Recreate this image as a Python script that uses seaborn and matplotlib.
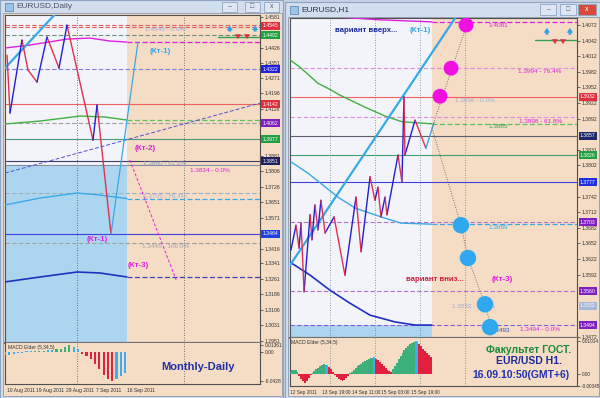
import numpy as np
import pandas as pd
import matplotlib
matplotlib.use("Agg")
import matplotlib.pyplot as plt
import matplotlib.transforms as mtransforms
from matplotlib.patches import Rectangle
import seaborn as sns

W, H = 600, 398
PEACH = "#f5dcc5"
WHITEISH = "#f3f4fa"
SKY = "#acd6ef"
ZZ_UP = "#2020d0"
ZZ_DN = "#e03050"
LBLUE = "#38a8e8"
MAGENTA = "#e020e0"

# ---------------- Daily chart data ----------------
d_xlim = (0, 59.44)
d_ylim = (1.2941, 1.4590)
d_date_idx = [0.47, 7.2, 14.2, 21.2, 28.4]
d_dates = ["10 Aug 2011", "19 Aug 2011", "29 Aug 2011", "7 Sep 2011", "16 Sep 2011"]
d_yticks = [1.4581, 1.4426, 1.4351, 1.4271, 1.4196, 1.4116, 1.3881, 1.3806, 1.3726,
            1.3651, 1.3571, 1.3416, 1.3341, 1.3261, 1.3186, 1.3106, 1.3031, 1.2951]
d_now = 28.4
d_split = 1.3835
d_vlines = [16.8, 41.7]

d_zz_x = [0.47, 1.17, 3.96, 5.36, 7.46, 9.79, 12.59, 14.45, 20.51, 21.45, 24.71]
d_zz_p = [1.4388, 1.4097, 1.4464, 1.4313, 1.4253, 1.4479, 1.4323, 1.4539, 1.3961, 1.4137, 1.3489]
d_proj_x = [24.71, 31.0]
d_proj_p = [1.3489, 1.4454]

d_ma_x = [0, 5.8, 14.5, 19.8, 24.5, 28.4]
d_ma_mag = [1.4424, 1.4439, 1.4469, 1.4474, 1.4459, 1.4454]
d_ma2_x = [0, 8.2, 17.5, 23.3, 28.4]
d_ma_green = [1.4042, 1.4057, 1.4082, 1.4077, 1.4062]
d_ma3_x = [0, 8.2, 16.8, 22.1, 28.4]
d_ma_sky = [1.3635, 1.3670, 1.3695, 1.3685, 1.3667]
d_ma_navy = [1.3248, 1.3273, 1.3298, 1.3293, 1.3273]

d_trend_x = [0, 13.0]
d_trend_p = [1.4323, 1.4625]
d_diag_mag_x = [29.1, 39.9]
d_diag_mag_p = [1.3861, 1.3258]
d_diag_blue_x = [0, 59.44]
d_diag_blue_p = [1.3795, 1.4147]

# (price, colour, style) full-width levels
d_levels = [(1.4539, "#e06060", "--"), (1.4531, "#e06060", "--"), (1.4489, "#6f8f7f", "--"),
            (1.4318, "#8080e0", "--"), (1.4142, "#f06060", "-"), (1.4047, "#a0a0a0", "--"),
            (1.3966, "#4a9a7a", "-"), (1.3855, "#404060", "-"), (1.3835, "#8890a0", "-"),
            (1.3697, "#a0b0c0", "--"), (1.3489, "#4040e0", "-"), (1.3444, "#a0a0a0", "--")]
d_tags = [("1.4545", 1.4535, "#e03040"), ("1.4492", 1.4489, "#20a040"), ("1.4322", 1.4318, "#2020e0"),
          ("1.4142", 1.4142, "#e03040"), ("1.4062", 1.4047, "#8020c0"), ("1.3977", 1.3966, "#20a040"),
          ("1.3851", 1.3855, "#202060"), ("1.3464", 1.3489, "#2040e0")]
d_up_x = [52.4, 58.3]
d_dn_x = [54.3, 56.4]

d_macd = [-0.004, -0.004, -0.003, -0.002, -0.001, 0.001, 0.001, 0.002, 0.002, 0.002,
          0.003, 0.003, 0.004, 0.005, 0.008, 0.010, 0.008, 0.004, -0.003, -0.006,
          -0.011, -0.018, -0.026, -0.034, -0.041, -0.043, -0.040, -0.036, -0.031]
d_phase = list("nnnnnnnuuunnuuuunnddddddddnnn")

# ---------------- H1 chart data ----------------
h_xlim = (0, 153.07)
h_ylim = (1.34701, 1.40855)
h_date_idx = [0, 17.1, 33.1, 48.5, 64.5]
h_dates = ["12 Sep 2011", "13 Sep 19:00", "14 Sep 11:00", "15 Sep 03:00", "15 Sep 19:00"]
h_yticks = [1.4072, 1.4042, 1.4012, 1.3982, 1.3952, 1.3922, 1.3892, 1.3831, 1.3802,
            1.3742, 1.3712, 1.3682, 1.3652, 1.3622, 1.3592, 1.3472]
h_now = 75.7
h_split = 1.3495
h_vlines = [21.3, 45.3, 69.3, 93.3]

h_zz_x = [0.5, 3.2, 4.8, 5.9, 7.5, 10.7, 11.7, 13.3, 14.9, 16.5, 18.7, 23.5, 29.3, 35.2,
          37.9, 42.7, 45.3, 46.9, 48.5, 50.7, 51.7, 57.6, 59.7, 60.8, 61.3, 66.7, 72.5]
h_zz_p = [1.3639, 1.3687, 1.3643, 1.3691, 1.3559, 1.3707, 1.3659, 1.3726, 1.3678, 1.3735,
          1.3672, 1.3703, 1.3591, 1.3741, 1.3636, 1.3780, 1.3735, 1.3760, 1.3703, 1.3741,
          1.3707, 1.3822, 1.3770, 1.3934, 1.3822, 1.3889, 1.3835]
h_tail_x = [72.5, 76.8]
h_tail_p = [1.3835, 1.3884]

h_mag_x = [26.7, 48.0, 75.7]
h_mag_p = [1.4087, 1.4082, 1.4078]
h_green_x = [0, 5.3, 14.9, 21.9, 26.7, 40.0, 50.7, 59.7, 75.7]
h_green_p = [1.4005, 1.3991, 1.3960, 1.3947, 1.3937, 1.3914, 1.3897, 1.3886, 1.3882]
h_sky_x = [0.5, 9.6, 25.6, 34.7, 48.5, 59.2, 75.7]
h_sky_p = [1.3809, 1.3787, 1.3741, 1.3720, 1.3703, 1.3691, 1.3689]
h_navy_x = [0, 10.7, 21.3, 32.0, 42.7, 56.0, 66.7, 75.7]
h_navy_p = [1.3616, 1.3591, 1.3562, 1.3537, 1.3514, 1.3501, 1.3495, 1.3495]

h_trend_x = [0, 88.0]
h_trend_p = [1.3610, 1.4085]
h_up_path_x = [75.7, 96.0]
h_up_path_p = [1.3874, 1.4091]
h_dn_path_x = [75.7, 91.2, 94.9, 104.0, 107.7]
h_dn_path_p = [1.3874, 1.3687, 1.3624, 1.3535, 1.3485]
h_pink_x = [80.0, 85.9, 93.9]
h_pink_p = [1.3935, 1.3989, 1.4072]
h_blue_x = [91.2, 94.9, 104.0, 106.7]
h_blue_p = [1.3687, 1.3624, 1.3535, 1.3491]

h_levels = [(1.3989, "#e090e0", "--"), (1.3934, "#f06060", "-"), (1.3895, "#e090e0", "--"),
            (1.3859, "#606070", "-"), (1.3822, "#40a070", "-"), (1.3770, "#4040e0", "-"),
            (1.3693, "#b070d0", "--"), (1.3560, "#b070d0", "--"), (1.3495, "#8060e0", "--")]
h_tags = [("1.3932", 1.3934, "#e03040"), ("1.3857", 1.3859, "#1c2a6a"), ("1.3826", 1.3822, "#20a040"),
          ("1.3777", 1.3770, "#2030e0"), ("1.3703", 1.3693, "#8020c0"), ("1.3560", 1.3560, "#8020c0"),
          ("1.3532", 1.3532, "#a8b8d8"), ("1.3494", 1.3495, "#8020c0")]
h_up_x = [137.0, 149.3]
h_dn_x = [141.3, 145.6]

h_macd = [0.0008, 0.0012, 0.0014, 0.0012, 0.0008,
          -0.0005, -0.0015, -0.0022, -0.0026, -0.0022, -0.0012, -0.0004,
          0.0004, 0.0010, 0.0016, 0.0020, 0.0024, 0.0027, 0.0030, 0.0029, 0.0027,
          0.0022, 0.0015, 0.0008,
          -0.0004, -0.0010, -0.0015, -0.0019, -0.0021, -0.0018, -0.0012, -0.0005,
          0.0003, 0.0008, 0.0014, 0.0020, 0.0025, 0.0028, 0.0032, 0.0036, 0.0040, 0.0043,
          0.0046, 0.0048, 0.0050, 0.0051,
          0.0047, 0.0042, 0.0036, 0.0030, 0.0024, 0.0019, 0.0014, 0.0010, 0.0008,
          0.0015, 0.0025, 0.0035, 0.0045, 0.0055, 0.0064, 0.0072, 0.0080, 0.0087, 0.0092,
          0.0096, 0.0099,
          0.0100, 0.0098,
          0.0092, 0.0085, 0.0078, 0.0070, 0.0063, 0.0057, 0.0052]
h_phase = list("uuuuu" "ddddddd" "uuuuuuu" "nn" "ddddddddddd" "uuuuuuuuuuuuu" "n"
               "ddddddddd" "uuuuuuuuuuuu" "nn" "ddddddd")

PHASE_COL = {"u": "#3cb07a", "d": "#e0203c", "n": "#3aaef0"}

# ---------------- figure ----------------
sns.set_theme(style="white")
plt.rcParams["font.family"] = ["Liberation Sans", "DejaVu Sans"]

fig = plt.figure(figsize=(6, 3.98), dpi=100)
fig.patch.set_facecolor("#c6d2e2")


def box(x0, y0, x1, y1):
    return [x0 / W, 1 - y1 / H, (x1 - x0) / W, (y1 - y0) / H]


def frame(x0, y0, x1, y1, **kw):
    fig.add_artist(Rectangle((x0 / W, 1 - y1 / H), (x1 - x0) / W, (y1 - y0) / H,
                             transform=fig.transFigure, zorder=-5, **kw))


# windows
frame(0, 0, 283, 398, fc="#d2deee", ec="#8ea4c0", lw=0.8)
frame(3, 13, 282, 396, fc=PEACH, ec="#8a9ab0", lw=0.6)
frame(285, 2, 600, 398, fc="#d2deee", ec="#8ea4c0", lw=0.8)
frame(288, 17, 599, 396, fc=PEACH, ec="#8a9ab0", lw=0.6)
frame(5, 3, 13, 11, fc="#9cc4e8", ec="#5a7aa0", lw=0.5)
frame(290, 6, 298, 14, fc="#9cc4e8", ec="#5a7aa0", lw=0.5)
fig.text(16 / W, 1 - 7 / H, "EURUSD,Daily", fontsize=6, color="#4a5668", va="center")
fig.text(301 / W, 1 - 10 / H, "EURUSD,H1", fontsize=6, color="#2a3448", va="center")
for bx, sym in zip([222, 245, 264], ["–", "□", "x"]):
    frame(bx, 2, bx + 15, 12, fc="#dde6f2", ec="#8ea4c0", lw=0.6)
    fig.text((bx + 7.5) / W, 1 - 7 / H, sym, fontsize=5, ha="center", va="center", color="#506070")
for bx, sym, c in zip([540, 560, 578], ["–", "□", "x"], ["#dde6f2", "#dde6f2", "#d84a3a"]):
    frame(bx, 4, bx + 18 if bx == 578 else bx + 16, 15, fc=c, ec="#8ea4c0", lw=0.6)
    fig.text((bx + 8.5) / W, 1 - 9.5 / H, sym, fontsize=5, ha="center", va="center",
             color="white" if bx == 578 else "#506070")


def style_axes(ax, yticks, ylabels=None, size=3.7):
    ax.set_facecolor(PEACH)
    ax.yaxis.tick_right()
    ax.set_yticks(yticks)
    if ylabels is not None:
        ax.set_yticklabels(ylabels)
    else:
        ax.set_yticklabels([f"{t:.4f}" for t in yticks])
    ax.tick_params(axis="y", labelsize=size, length=2, pad=1.2, colors="#303030", width=0.5)
    for s in ax.spines.values():
        s.set_color("#505050")
        s.set_linewidth(0.8)


def tags(ax, items):
    tr = mtransforms.blended_transform_factory(ax.transAxes, ax.transData)
    for txt, p, c in items:
        ax.text(1.01, p, txt, transform=tr, fontsize=3.7, color="white", va="center", ha="left",
                zorder=10, clip_on=False,
                bbox=dict(boxstyle="square,pad=0.25", fc=c, ec="none"))


def zigzag(ax, xs, ps):
    rows = []
    for i in range(len(xs) - 1):
        d = "up" if ps[i + 1] > ps[i] else "down"
        rows += [(i, d, xs[i], ps[i]), (i, d, xs[i + 1], ps[i + 1])]
    zz = pd.DataFrame(rows, columns=["seg", "dir", "x", "p"])
    sns.lineplot(data=zz, x="x", y="p", hue="dir", units="seg", estimator=None, sort=False,
                 palette={"up": ZZ_UP, "down": ZZ_DN}, legend=False, lw=1.0, ax=ax, zorder=5)


def arrows(ax, xs, p0, p1, color):
    for x in xs:
        ax.annotate("", xy=(x, p1), xytext=(x, p0), zorder=8,
                    arrowprops=dict(arrowstyle="simple,head_width=0.9,head_length=0.7,tail_width=0.4",
                                    mutation_scale=5, color=color, lw=0))


DASH = (0, (4, 2))

# ---------------- Daily main ----------------
axL = fig.add_axes(box(5, 15, 260, 343))
style_axes(axL, d_yticks)
axL.spines["bottom"].set_linewidth(1.6)
axL.spines["bottom"].set_color("#707070")
axL.fill_between([0, d_now], d_split, d_ylim[1], color=WHITEISH, lw=0, zorder=0)
axL.fill_between([0, d_now], d_ylim[0], d_split, color=SKY, lw=0, zorder=0)
for v in d_vlines:
    axL.axvline(v, color="#505050", lw=0.6, ls=(0, (1, 2)), zorder=1)
for p, c, ls in d_levels:
    axL.axhline(p, color=c, lw=0.8, ls=DASH if ls == "--" else "-", zorder=2)
sns.lineplot(x=d_ma_x, y=d_ma_mag, color=MAGENTA, lw=1.0, ax=axL, zorder=3)
sns.lineplot(x=d_ma2_x, y=d_ma_green, color="#40b040", lw=1.0, ax=axL, zorder=3)
sns.lineplot(x=d_ma3_x, y=d_ma_sky, color=LBLUE, lw=1.0, ax=axL, zorder=3)
sns.lineplot(x=d_ma3_x, y=d_ma_navy, color="#2030c0", lw=1.2, ax=axL, zorder=3)
axL.plot([d_now, d_xlim[1]], [d_ma_mag[-1]] * 2, color=MAGENTA, lw=0.9, ls=DASH, zorder=3)
axL.plot([d_now, d_xlim[1]], [d_ma_green[-1]] * 2, color="#60c060", lw=0.9, ls=DASH, zorder=3)
axL.plot([d_now, d_xlim[1]], [d_ma_sky[-1]] * 2, color=LBLUE, lw=0.9, ls=DASH, zorder=3)
axL.plot([d_now, d_xlim[1]], [d_ma_navy[-1]] * 2, color="#4040c0", lw=0.9, ls=DASH, zorder=3)
axL.plot([49.6, d_xlim[1]], [1.4479, 1.4479], color="#30a050", lw=1.0, zorder=3)
sns.lineplot(x=d_trend_x, y=d_trend_p, color=LBLUE, lw=1.6, ax=axL, zorder=4)
axL.plot(d_diag_mag_x, d_diag_mag_p, color=MAGENTA, lw=0.7, ls=(0, (3, 2)), zorder=4)
axL.plot(d_diag_blue_x, d_diag_blue_p, color="#5050d0", lw=0.7, ls=(0, (4, 2)), zorder=4)
zigzag(axL, d_zz_x, d_zz_p)
axL.plot(d_proj_x, d_proj_p, color=LBLUE, lw=0.9, zorder=5)
arrows(axL, d_up_x, 1.4493, 1.4552, "#30a0e8")
arrows(axL, d_dn_x, 1.4491, 1.4455, "#e03040")
kw_lab = dict(fontsize=4.6, va="center", ha="left", zorder=6)
axL.text(32.6, 1.4517, "1.4545 - 0.0%", color="#a0a8d8", **kw_lab)
axL.text(32.2, 1.3841, "1.3880 - 61.8%", color="#8a9ac0", **kw_lab)
axL.text(43.1, 1.3807, "1.3834 - 0.0%", color=MAGENTA, **kw_lab)
axL.text(32.2, 1.3677, "1.3705 - 76.4%", color="#a0b0d0", **kw_lab)
axL.text(31.9, 1.3424, "1.3445 - 100.0%", color="#a0a0b0", **kw_lab)
kw_k = dict(fontsize=5.8, fontweight="bold", ha="center", va="center", zorder=7)
axL.text(36.1, 1.4404, "(Кт-1)", color=LBLUE, **kw_k)
axL.text(32.6, 1.3921, "(Кт-2)", color=MAGENTA, **kw_k)
axL.text(21.4, 1.3459, "(Кт-1)", color=MAGENTA, **kw_k)
axL.text(31.0, 1.3333, "(Кт-3)", color=MAGENTA, **kw_k)
tags(axL, d_tags)
axL.set_xlim(*d_xlim)
axL.set_ylim(*d_ylim)
axL.set_xticks([])
axL.set_xlabel("")
axL.set_ylabel("")

# ---------------- Daily MACD ----------------
axLm = fig.add_axes(box(5, 343, 260, 384))
style_axes(axLm, [0.0110, 0.0, -0.0428], ["0.01361", "0.00", "-0.0428"], size=3.5)
axLm.spines["top"].set_visible(False)
axLm.bar(range(len(d_macd)), d_macd, width=0.5, edgecolor="none", linewidth=0,
         color=[PHASE_COL[p] for p in d_phase], zorder=3)
for v in d_vlines:
    axLm.axvline(v, color="#505050", lw=0.6, ls=(0, (1, 2)), zorder=1)
axLm.set_xlim(*d_xlim)
axLm.set_ylim(-0.048, 0.0136)
axLm.set_xticks(d_date_idx)
axLm.set_xticklabels(d_dates, ha="left")
axLm.tick_params(axis="x", labelsize=3.6, length=2, pad=1, colors="#303030", width=0.5)
axLm.text(0.01, 0.95, "MACD Elder (5,34,5)", transform=axLm.transAxes, fontsize=3.6,
          color="#303030", va="top", ha="left")
axLm.text(45.0, -0.0226, "Monthly-Daily", fontsize=8, fontweight="bold", color="#1e30a8",
          ha="center", va="center")

# ---------------- H1 main ----------------
axR = fig.add_axes(box(290, 18, 577, 338))
style_axes(axR, h_yticks)
axR.spines["bottom"].set_linewidth(1.6)
axR.spines["bottom"].set_color("#707070")
axR.fill_between([0, h_now], h_split, h_ylim[1], color=WHITEISH, lw=0, zorder=0)
axR.fill_between([0, h_now], h_ylim[0], h_split, color=SKY, lw=0, zorder=0)
for v in h_vlines:
    axR.axvline(v, color="#5a8a8a", lw=0.6, ls=(0, (1, 2)), zorder=1)
for p, c, ls in h_levels:
    axR.axhline(p, color=c, lw=0.8, ls=DASH if ls == "--" else "-", zorder=2)
sns.lineplot(x=h_mag_x, y=h_mag_p, color=MAGENTA, lw=1.0, ax=axR, zorder=3)
sns.lineplot(x=h_green_x, y=h_green_p, color="#40b040", lw=1.0, ax=axR, zorder=3)
sns.lineplot(x=h_sky_x, y=h_sky_p, color=LBLUE, lw=1.0, ax=axR, zorder=3)
sns.lineplot(x=h_navy_x, y=h_navy_p, color="#2030c0", lw=1.2, ax=axR, zorder=3)
axR.plot([h_now, h_xlim[1]], [h_mag_p[-1]] * 2, color=MAGENTA, lw=0.9, ls=DASH, zorder=3)
axR.plot([h_now, h_xlim[1]], [h_green_p[-1]] * 2, color="#60c060", lw=0.9, ls=DASH, zorder=3)
axR.plot([h_now, h_xlim[1]], [h_sky_p[-1]] * 2, color=LBLUE, lw=0.9, ls=DASH, zorder=3)
axR.plot([130.7, h_xlim[1]], [1.4043, 1.4043], color="#30a050", lw=1.0, zorder=3)
sns.lineplot(x=h_trend_x, y=h_trend_p, color=LBLUE, lw=1.6, ax=axR, zorder=4)
zigzag(axR, h_zz_x, h_zz_p)
axR.plot(h_tail_x, h_tail_p, color=LBLUE, lw=1.0, zorder=5)
axR.plot(h_up_path_x, h_up_path_p, color="#707070", lw=0.7, ls=(0, (1, 1.5)), zorder=5)
axR.plot(h_dn_path_x, h_dn_path_p, color="#707070", lw=0.7, ls=(0, (1, 1.5)), zorder=5)
arrows(axR, h_up_x, 1.4048, 1.4072, "#30a0e8")
arrows(axR, h_dn_x, 1.4047, 1.4030, "#e03040")
axR.text(106.1, 1.4072, "1.4081", color=MAGENTA, **kw_lab)
axR.text(121.6, 1.3982, "1.3994 - 76.4%", color=MAGENTA, **kw_lab)
axR.text(88.0, 1.3926, "1.3936 - 0.0%", color="#a0a8d8", **kw_lab)
axR.text(122.1, 1.3887, "1.3898 - 61.8%", color=MAGENTA, **kw_lab)
axR.text(106.1, 1.3876, "1.3885", color="#30a050", **kw_lab)
axR.text(105.6, 1.3682, "1.3689", color=LBLUE, **kw_lab)
axR.text(86.4, 1.3530, "1.3532 - 38.2%", color="#a0a8d8", **kw_lab)
axR.text(106.7, 1.3485, "1.3493", color="#3050c0", **kw_lab)
axR.text(122.7, 1.3487, "1.3494 - 0.0%", color=MAGENTA, **kw_lab)
sns.scatterplot(x=h_pink_x, y=h_pink_p, color="#f010e0", s=115, edgecolor="none", ax=axR, zorder=8)
sns.scatterplot(x=h_blue_x, y=h_blue_p, color="#30a8f0", s=140, edgecolor="none", ax=axR, zorder=8)
axR.text(40.5, 1.4062, "вариант вверх...", fontsize=5.6, fontweight="bold", color="#1a2a9a",
         ha="center", va="center", zorder=7)
axR.text(69.3, 1.4062, "(Кт-1)", color=LBLUE, **kw_k)
axR.text(77.3, 1.3582, "вариант вниз...", fontsize=5.6, fontweight="bold", color="#d02040",
         ha="center", va="center", zorder=7)
axR.text(113.0, 1.3582, "(Кт-3)", color=MAGENTA, **kw_k)
tags(axR, h_tags)
axR.set_xlim(*h_xlim)
axR.set_ylim(*h_ylim)
axR.set_xticks([])
axR.set_xlabel("")
axR.set_ylabel("")

# ---------------- H1 MACD ----------------
axRm = fig.add_axes(box(290, 338, 577, 386))
style_axes(axRm, [0.01014, 0.0, -0.00345], ["0.01014", "0.00", "-0.00345"], size=3.4)
axRm.spines["top"].set_visible(False)
axRm.bar(range(len(h_macd)), h_macd, width=1.0, edgecolor="none", linewidth=0,
         color=[PHASE_COL[p] for p in h_phase], zorder=3)
for v in h_vlines:
    axRm.axvline(v, color="#5a8a8a", lw=0.6, ls=(0, (1, 2)), zorder=1)
axRm.set_xlim(*h_xlim)
axRm.set_ylim(-0.0036, 0.0110)
axRm.set_xticks(h_date_idx)
axRm.set_xticklabels(h_dates, ha="left")
axRm.tick_params(axis="x", labelsize=3.4, length=2, pad=1, colors="#303030", width=0.5)
axRm.text(0.005, 0.96, "MACD Elder (5,34,5)", transform=axRm.transAxes, fontsize=3.6,
          color="#303030", va="top", ha="left")
axRm.text(127.5, 0.0074, "Факультет ГОСТ.", fontsize=7.5, fontweight="bold", color="#1a8a3a",
          ha="center", va="center")
axRm.text(127.5, 0.0041, "EUR/USD H1.", fontsize=7.5, fontweight="bold", color="#1a2a9a",
          ha="center", va="center")
axRm.text(123.2, -0.0003, "16.09.10:50(GMT+6)", fontsize=7.5, fontweight="bold", color="#2030b0",
          ha="center", va="center")

fig.savefig("out.png", dpi=100, facecolor=fig.get_facecolor())
